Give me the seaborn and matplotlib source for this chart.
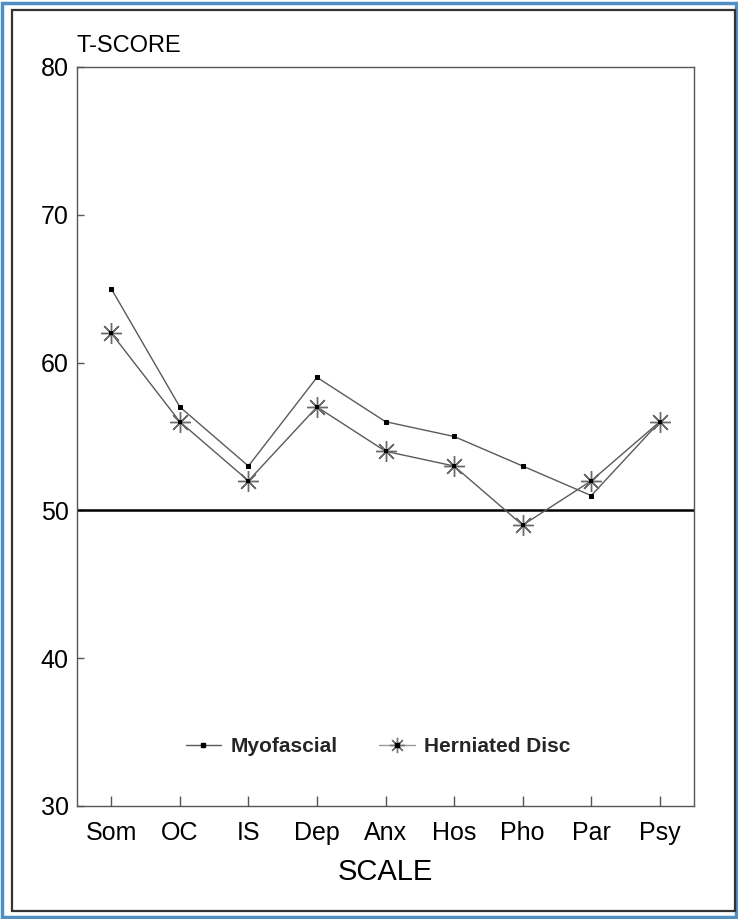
import pandas as pd
import numpy as np
import seaborn as sns
import matplotlib.pyplot as plt
from matplotlib.lines import Line2D
from matplotlib.patches import Rectangle
from matplotlib.legend_handler import HandlerTuple

# values
scales = ['Som', 'OC', 'IS', 'Dep', 'Anx', 'Hos', 'Pho', 'Par', 'Psy']
myofascial = [65, 57, 53, 59, 56, 55, 53, 51, 56]
herniated = [62, 56, 52, 57, 54, 53, 49, 52, 56]
y_ticks = [30, 40, 50, 60, 70, 80]

sns.set_theme(style='white')
plt.rcParams['font.family'] = ['Liberation Sans', 'DejaVu Sans']

df = pd.DataFrame({'scale': scales, 'Myofascial': myofascial, 'Herniated Disc': herniated})

fig = plt.figure(figsize=(7.38, 9.19), dpi=100)
ax = fig.add_axes([0.1043, 0.1230, 0.8362, 0.8041])

line_col = '#5a5a5a'
sns.lineplot(data=df, x='scale', y='Myofascial', ax=ax, color=line_col, lw=1.0,
             marker='s', markersize=3.5, markerfacecolor='black', markeredgecolor='black',
             sort=False)
sns.lineplot(data=df, x='scale', y='Herniated Disc', ax=ax, color=line_col, lw=1.0,
             marker=(8, 2, 0), markersize=15, markeredgecolor='#6a6a6a', markeredgewidth=1.0,
             sort=False)
sns.scatterplot(data=df, x='scale', y='Herniated Disc', ax=ax, color='black', s=10,
                marker='s', linewidth=0, zorder=5)

ax.axhline(50, color='black', lw=1.8, zorder=1)

ax.set_xlim(-0.5, len(scales) - 0.5)
ax.set_ylim(30, 80)
ax.set_yticks(y_ticks)
ax.set_xticks(range(len(scales)))
ax.set_xticklabels(scales)
ax.tick_params(axis='both', direction='in', length=7, width=1, color='#555555',
               labelsize=18, pad=11, labelcolor='black', bottom=True, left=True)
ax.tick_params(axis='y', pad=6, length=5, labelsize=18)
for s in ax.spines.values():
    s.set_color('#555555')
    s.set_linewidth(1.0)
ax.set_xlabel('SCALE', fontsize=21, labelpad=9, color='black')
ax.set_ylabel('')
ax.text(0.0, 1.028, 'T-SCORE', transform=ax.transAxes, fontsize=17,
        ha='left', va='center', color='black')

h_myo = Line2D([], [], color=line_col, lw=1.0, marker='s', markersize=3,
               markerfacecolor='black', markeredgecolor='black')
h_her = Line2D([], [], color='#9a9a9a', lw=1.0, marker=(8, 2, 0), markersize=11,
               markeredgecolor='#7a7a7a')
h_dot = Line2D([], [], ls='none', marker='s', markersize=2.5, color='black')
ax.legend([h_myo, (h_her, h_dot)], ['Myofascial', 'Herniated Disc'],
          handler_map={tuple: HandlerTuple(ndivide=1, pad=0)},
          loc='center', bbox_to_anchor=(0.488, 0.080), ncol=2, frameon=False,
          prop={'size': 15, 'weight': 'bold'}, handlelength=1.7, columnspacing=2.0,
          handletextpad=0.45)

# outer frames
fig.patches.append(Rectangle((0.003, 0.002), 0.994, 0.995, transform=fig.transFigure,
                             fill=False, edgecolor='#4f8fc6', lw=2.5))
fig.patches.append(Rectangle((12 / 738, 1 - 911 / 919), (735 - 12) / 738, (911 - 10) / 919,
                             transform=fig.transFigure, fill=False, edgecolor='#333333', lw=1.6))

fig.savefig('out.png', dpi=100)
